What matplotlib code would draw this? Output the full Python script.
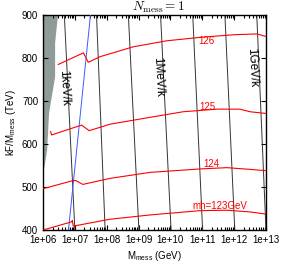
import numpy as np
import matplotlib
matplotlib.use("Agg")
import matplotlib.pyplot as plt
from matplotlib.ticker import FuncFormatter, LogLocator, NullFormatter

plt.rcParams['font.family'] = ['Liberation Sans', 'DejaVu Sans']
plt.rcParams['mathtext.fontset'] = 'custom'
plt.rcParams['mathtext.rm'] = 'Liberation Sans'
plt.rcParams['mathtext.it'] = 'Liberation Sans:italic'

# higgs mass contours, log10(M_mess) vs kF/M_mess (TeV)
h123_logx = [6.0, 6.90, 6.92, 6.95, 8.10, 9.36, 10.93, 11.77, 12.50, 13.0]
h123_y = [400, 419, 422, 409, 425, 435, 445, 446, 442, 437]
h124_logx = [6.0, 6.95, 7.03, 7.25, 8.10, 9.36, 10.93, 11.77, 12.50, 13.0]
h124_y = [496, 515, 515, 506, 520, 534, 542, 545, 541, 538]
h125_logx = [6.24, 6.27, 7.21, 7.45, 8.10, 9.36, 10.40, 11.45, 12.18, 12.50, 13.0]
h125_y = [629, 621, 644, 631, 646, 662, 675, 681, 681, 675, 671]
h126_logx = [6.48, 7.27, 7.42, 7.79, 8.83, 9.88, 10.93, 11.97, 12.71, 13.0]
h126_y = [785, 812, 790, 803, 826, 840, 848, 854, 856, 850]

higgs_curves = [(h123_logx, h123_y), (h124_logx, h124_y),
                (h125_logx, h125_y), (h126_logx, h126_y)]
higgs_labels = ["mh=123GeV", "124", "125", "126"]
higgs_label_logx = [11.56, 11.27, 11.16, 11.14]
higgs_label_y = [456, 554, 685, 840]

# gravitino mass lines: log10(M_mess) at y=400 and y=900
grav_logx_bottom = [7.0, 7.95, 9.01, 10.02, 11.01, 12.02, 13.0]
grav_logx_top = [6.67, 7.68, 8.68, 9.69, 10.70, 11.71, 12.71]
grav_labels = ["1keV/k", "1MeV/k", "1GeV/k"]
grav_label_logx = [6.67, 9.61, 12.56]
grav_label_y = [730, 756, 779]

# blue line
blue_logx = [6.80, 7.49]
blue_y = [400, 900]

# excluded (gray) region boundary
gray_logx = [6.47, 6.38, 6.38, 6.19, 6.13, 6.03, 6.0]
gray_y = [900, 835, 756, 672, 586, 540, 528]

fig = plt.figure(figsize=(2.81, 2.63), dpi=100)
ax = fig.add_axes([43/281, 1-230/263, 223/281, 215/263])

gx = [1e6] + [10**v for v in gray_logx] + [1e6]
gy = [900] + gray_y + [528]
ax.fill(gx, gy, color='#8f9b98', lw=0, zorder=1)

for xb, xt in zip(grav_logx_bottom, grav_logx_top):
    ax.plot([10**xb, 10**xt], [400, 900], color='#333333', lw=0.7, zorder=2)

for lab, lx, ly in zip(grav_labels, grav_label_logx, grav_label_y):
    ax.text(10**lx, ly, lab, rotation=-87, fontsize=8.5, ha='center', va='center', zorder=3)

ax.plot([10**v for v in blue_logx], blue_y, color='#3a5cff', lw=0.7, zorder=3)

for (lx, ly) in higgs_curves:
    ax.plot([10**v for v in lx], ly, color='red', lw=0.8, zorder=4)

for lab, lx, ly in zip(higgs_labels, higgs_label_logx, higgs_label_y):
    ax.text(10**lx, ly, lab, color='red', fontsize=7, ha='center', va='center', zorder=5)

ax.set_xscale('log')
ax.set_xlim(1e6, 1e13)
ax.set_ylim(400, 900)
ax.set_xticks([10**k for k in range(6, 14)])
ax.xaxis.set_major_formatter(FuncFormatter(lambda v, p: "1e+%02d" % round(np.log10(v))))
ax.xaxis.set_minor_locator(LogLocator(base=10, subs=np.arange(2, 10)))
ax.xaxis.set_minor_formatter(NullFormatter())
ax.set_yticks([400, 500, 600, 700, 800, 900])
ax.tick_params(which='both', direction='in', top=True, right=True, labelsize=7, width=0.8)
ax.tick_params(which='major', length=3.5)
ax.tick_params(which='minor', length=2)
for s in ax.spines.values():
    s.set_linewidth(1.0)

ax.set_xlabel(r"M$_{\rm mess}$ (GeV)", fontsize=7, labelpad=3)
ax.set_ylabel(r"kF/M$_{\rm mess}$ (TeV)", fontsize=7, labelpad=3)
fig.text(158/281, 1 - 11/263, r"$N_{\rm mess} = 1$", fontsize=9.5,
         math_fontfamily='cm', ha='center', va='baseline')

fig.savefig("out.png", dpi=100)
